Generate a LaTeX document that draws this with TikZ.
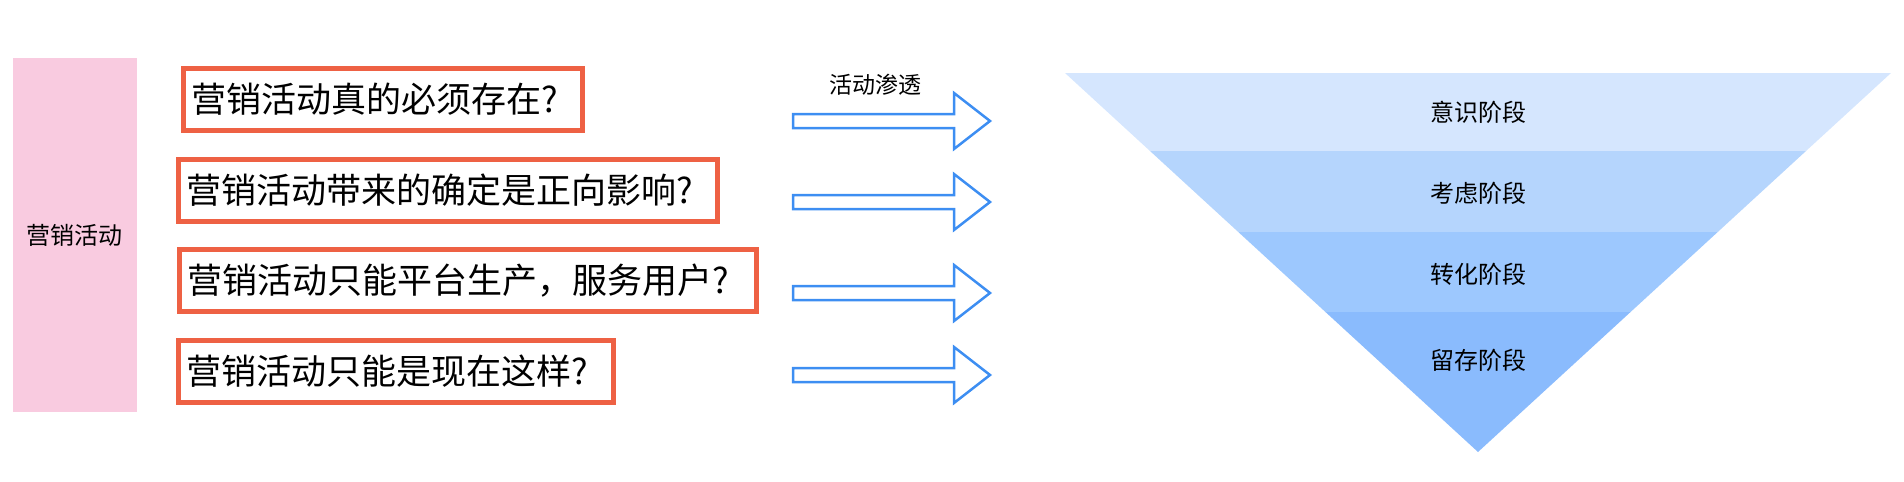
\documentclass[tikz,border=0pt]{standalone}
\usepackage{fontspec}
\setmainfont{Noto Sans CJK SC}
\definecolor{pinkbar}{HTML}{F9CBE0}
\definecolor{boxred}{HTML}{EE6144}
\definecolor{arrowblue}{HTML}{3D8EF2}
\definecolor{stageA}{HTML}{D5E6FE}
\definecolor{stageB}{HTML}{B5D5FD}
\definecolor{stageC}{HTML}{9DC8FE}
\definecolor{stageD}{HTML}{8ABBFD}

\begin{document}
\begin{tikzpicture}[x=1pt, y=-1pt,
    question/.style={draw=boxred, line width=5pt, anchor=west, minimum height=62pt, inner xsep=8pt, align=left, font=\fontsize{35}{40}\selectfont},
    blockarrow/.style={draw=arrowblue, line width=2.5pt, line join=miter},
    stagelabel/.style={font=\fontsize{24}{28}\selectfont}]
                \useasboundingbox (0,0) rectangle (1904,482);

                \node[fill=pinkbar, minimum width=124pt, minimum height=354pt, font=\fontsize{24}{28}\selectfont](market) at (74.5,235) {营销活动};

                \node[question, text width=383pt](q1) at (180.5,99.5) {营销活动真的必须存在?};
                \node[question, text width=523pt](q2) at (175.5,190.5) {营销活动带来的确定是正向影响?};
                \node[question, text width=561pt](q3) at (176.5,280.5) {营销活动只能平台生产，服务用户?};
                \node[question, text width=419.5pt](q4) at (175.5,371) {营销活动只能是现在这样?};

                \node[font=\fontsize{23}{26}\selectfont](seep) at (875,85) {活动渗透};

                \coordinate (a1) at (793,121);
                \coordinate (a2) at (793,202);
                \coordinate (a3) at (793,293);
                \coordinate (a4) at (793,375);
                                \draw[blockarrow] (a1) ++(0,-7) -- ++(161,0) -- ++(0,-21) -- ++(36,28) -- ++(-36,28) -- ++(0,-21) -- ++(-161,0) -- cycle;
                                \draw[blockarrow] (a2) ++(0,-7) -- ++(161,0) -- ++(0,-21) -- ++(36,28) -- ++(-36,28) -- ++(0,-21) -- ++(-161,0) -- cycle;
                                \draw[blockarrow] (a3) ++(0,-7) -- ++(161,0) -- ++(0,-21) -- ++(36,28) -- ++(-36,28) -- ++(0,-21) -- ++(-161,0) -- cycle;
                                \draw[blockarrow] (a4) ++(0,-7) -- ++(161,0) -- ++(0,-21) -- ++(36,28) -- ++(-36,28) -- ++(0,-21) -- ++(-161,0) -- cycle;

                \coordinate (funnelL) at (1065,73);
                \coordinate (funnelR) at (1891,73);
                \coordinate (funnelTip) at (1478,452);
                \begin{scope}
                                \clip (funnelL) -- (funnelR) -- (funnelTip) -- cycle;
                                \fill[stageA] (1000,60) rectangle (1950,151);
                                \fill[stageB] (1000,151) rectangle (1950,232);
                                \fill[stageC] (1000,232) rectangle (1950,312);
                                \fill[stageD] (1000,312) rectangle (1950,460);
                \end{scope}

                \node[stagelabel](aware) at (1478,112) {意识阶段};
                \node[stagelabel](consider) at (1478,193) {考虑阶段};
                \node[stagelabel](convert) at (1478,274) {转化阶段};
                \node[stagelabel](retain) at (1478,360) {留存阶段};
\end{tikzpicture}
\end{document}
